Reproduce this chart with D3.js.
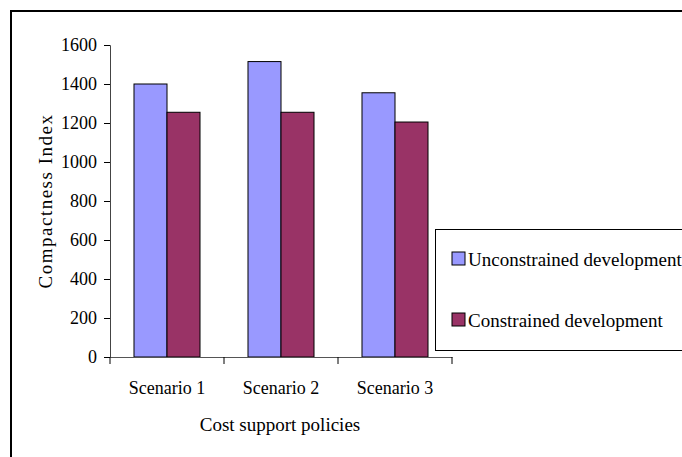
<!DOCTYPE html>
<html>
<head>
<meta charset="utf-8">
<script src="https://cdn.jsdelivr.net/npm/d3@7"></script>
<style>
  body { margin: 0; background: #fff; }
  text { font-family: "Liberation Serif", "Times New Roman", serif; fill: #000; }
</style>
</head>
<body>
<svg id="chart" width="682" height="457"></svg>
<script>
// data
var scenarios = ["Scenario 1", "Scenario 2", "Scenario 3"];
var seriesNames = ["Unconstrained development", "Constrained development"];
var unconstrained = [1400, 1515, 1355];
var constrained = [1255, 1255, 1205];
var yTicks = [0, 200, 400, 600, 800, 1000, 1200, 1400, 1600];
var colors = ["#9999ff", "#993366"];

var svg = d3.select("#chart");

// outer frame (runs off the right and bottom edge like the original)
svg.append("rect")
  .attr("x", 11).attr("y", 11)
  .attr("width", 700).attr("height", 480)
  .attr("fill", "none")
  .attr("stroke", "#000")
  .attr("stroke-width", 2);

var plot = { left: 110, right: 452, top: 45, bottom: 357 };

var x = d3.scaleBand()
  .domain(scenarios)
  .range([plot.left, plot.right]);

var x1 = d3.scaleBand()
  .domain(seriesNames)
  .range([0, x.bandwidth()])
  .paddingOuter(0.727);

var y = d3.scaleLinear()
  .domain([0, 1600])
  .range([plot.bottom, plot.top]);

var rows = scenarios.map(function (s, i) {
  return { scenario: s, values: [unconstrained[i], constrained[i]] };
});

// bars
var groups = svg.append("g").selectAll("g")
  .data(rows).enter()
  .append("g")
  .attr("transform", d => "translate(" + x(d.scenario) + ",0)");

groups.selectAll("rect")
  .data(d => d.values.map((v, j) => ({ name: seriesNames[j], value: v, j: j })))
  .enter().append("rect")
  .attr("x", d => x1(d.name))
  .attr("y", d => y(d.value))
  .attr("width", x1.bandwidth())
  .attr("height", d => y(0) - y(d.value))
  .attr("fill", d => colors[d.j])
  .attr("stroke", "#000")
  .attr("stroke-width", 1);

// y axis
var yAxis = svg.append("g")
  .attr("transform", "translate(" + plot.left + ",0)")
  .call(d3.axisLeft(y).tickValues(yTicks).tickSize(6).tickPadding(7).tickFormat(d3.format("d")));
yAxis.select(".domain").attr("stroke", "#444");
yAxis.selectAll(".tick line").attr("stroke", "#000");
yAxis.selectAll("text")
  .style("font-family", "Liberation Serif")
  .style("font-size", "18px")
  .attr("fill", "#000");

// x axis: labels centred, ticks on the band edges
var xAxis = svg.append("g")
  .attr("transform", "translate(0," + plot.bottom + ")")
  .call(d3.axisBottom(x).tickSize(0).tickPadding(24));
xAxis.select(".domain").attr("stroke", "#555");
xAxis.selectAll("text")
  .style("font-family", "Liberation Serif")
  .style("font-size", "18px")
  .attr("fill", "#000");

var edges = scenarios.map(s => x(s)).concat([x.range()[1]]);
xAxis.selectAll(".edge")
  .data(edges).enter()
  .append("line")
  .attr("x1", d => d).attr("x2", d => d)
  .attr("y1", 0).attr("y2", 7)
  .attr("stroke", "#000");

// axis titles
svg.append("text")
  .attr("x", 280)
  .attr("y", 431)
  .attr("text-anchor", "middle")
  .style("font-size", "19px")
  .text("Cost support policies");

svg.append("text")
  .attr("transform", "translate(52," + ((plot.top + plot.bottom) / 2) + ") rotate(-90)")
  .attr("text-anchor", "middle")
  .style("font-size", "19px")
  .style("letter-spacing", "1.5px")
  .text("Compactness Index");

// legend
var legend = svg.append("g").attr("transform", "translate(435,229)");
legend.append("rect")
  .attr("x", 0.5).attr("y", 0.5)
  .attr("width", 300).attr("height", 121)
  .attr("fill", "#fff")
  .attr("stroke", "#000");

var items = legend.selectAll(".item")
  .data(seriesNames).enter()
  .append("g")
  .attr("transform", (d, i) => "translate(17," + (23 + i * 61) + ")");

items.append("rect")
  .attr("width", 13).attr("height", 13)
  .attr("fill", (d, i) => colors[i])
  .attr("stroke", "#000");

items.append("text")
  .attr("x", 16)
  .attr("y", 14)
  .style("font-size", "19px")
  .text(d => d);
</script>
</body>
</html>
